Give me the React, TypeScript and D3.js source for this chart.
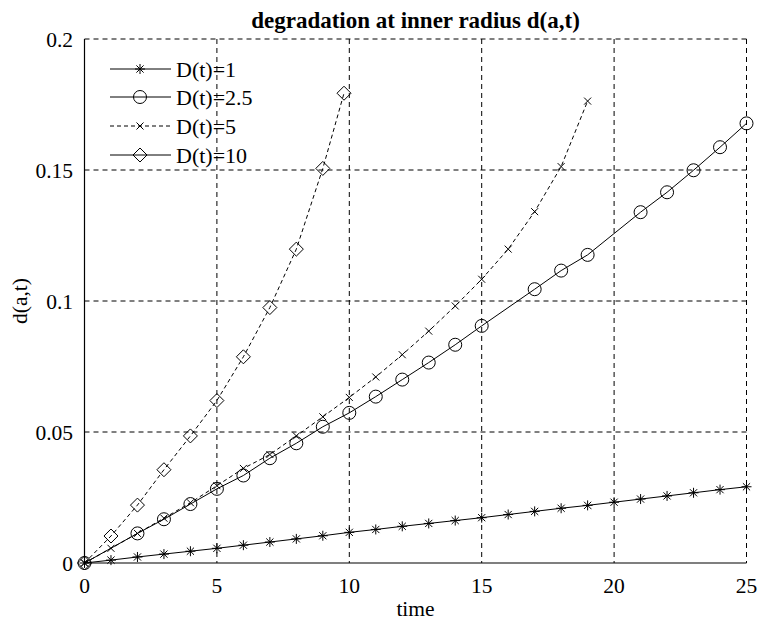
import React from "react";
import * as d3 from "d3";

const titleText = "degradation at inner radius d(a,t)";
const xLabel = "time";
const yLabel = "d(a,t)";
const xTicks = [0, 5, 10, 15, 20, 25];
const yTicks = [0, 0.05, 0.1, 0.15, 0.2];
const yTickLabels = ["0", "0.05", "0.1", "0.15", "0.2"];

// D(t)=1 (stars, solid)
const t1 = [0, 1, 2, 3, 4, 5, 6, 7, 8, 9, 10, 11, 12, 13, 14, 15, 16, 17, 18, 19, 20, 21, 22, 23, 24, 25];
const v1 = [0, 0.0011, 0.0023, 0.0034, 0.0045, 0.0056, 0.0068, 0.008, 0.0092, 0.0104, 0.0117, 0.0128, 0.014, 0.0151, 0.0162, 0.0173, 0.0185, 0.0197, 0.0209, 0.022, 0.0232, 0.0244, 0.0256, 0.0268, 0.028, 0.0291];

// D(t)=2.5 (circles, solid)
const t2 = [0, 2, 3, 4, 5, 6, 7, 8, 9, 10, 11, 12, 13, 14, 15, 17, 18, 19, 21, 22, 23, 24, 25];
const v2 = [0, 0.0113, 0.0167, 0.0225, 0.0283, 0.0334, 0.04, 0.0457, 0.052, 0.0573, 0.0635, 0.07, 0.0765, 0.0833, 0.0905, 0.1045, 0.1116, 0.1176, 0.1339, 0.1415, 0.1499, 0.1587, 0.1678];

// D(t)=5 (x marks, dashed)
const t3 = [0, 1, 2, 3, 4, 5, 6, 7, 8, 9, 10, 11, 12, 13, 14, 15, 16, 17, 18, 19];
const v3 = [0, 0.0056, 0.0113, 0.0171, 0.023, 0.0295, 0.0361, 0.0414, 0.0485, 0.0558, 0.0632, 0.071, 0.0795, 0.0885, 0.0981, 0.1083, 0.1198, 0.1341, 0.1513, 0.1763];

// D(t)=10 (diamonds, dashed)
const t4 = [0, 1, 2, 3, 4, 5, 6, 7, 8, 9, 9.8];
const v4 = [0, 0.0103, 0.0221, 0.0356, 0.0485, 0.062, 0.0787, 0.0975, 0.1198, 0.1506, 0.1793];

const legendLabels = ["D(t)=1", "D(t)=2.5", "D(t)=5", "D(t)=10"];

const W = 758;
const H = 621;
const left = 84.5;
const right = 746.5;
const top = 39;
const bottom = 563;
const FONT = "Liberation Serif";

type Marker = "star" | "circle" | "x" | "diamond";

function markerPath(m: Marker): string {
  if (m === "star") return "M0,-5V5M-5,0H5M-3.6,-3.6L3.6,3.6M-3.6,3.6L3.6,-3.6";
  if (m === "x") return "M-3.5,-3.5L3.5,3.5M-3.5,3.5L3.5,-3.5";
  if (m === "diamond") return "M0,-7L7,0L0,7L-7,0Z";
  return "";
}

function MarkerShape({ m, x, y }: { m: Marker; x: number; y: number }) {
  if (m === "circle") {
    return <circle cx={x} cy={y} r={6.5} fill="none" stroke="#000" strokeWidth={1} />;
  }
  return <path d={markerPath(m)} transform={`translate(${x},${y})`} fill="none" stroke="#000" strokeWidth={1} />;
}

export default function App() {
  const x = d3.scaleLinear().domain([0, 25]).range([left, right]);
  const y = d3.scaleLinear().domain([0, 0.2]).range([bottom, top]);

  const series = [
    { t: t1, v: v1, m: "star" as Marker, dash: undefined as string | undefined, legendDash: undefined as string | undefined },
    { t: t2, v: v2, m: "circle" as Marker, dash: undefined, legendDash: undefined },
    { t: t3, v: v3, m: "x" as Marker, dash: "4,3", legendDash: "4,3" },
    { t: t4, v: v4, m: "diamond" as Marker, dash: "4,3", legendDash: undefined },
  ];

  const line = d3
    .line<[number, number]>()
    .x((d) => x(d[0]))
    .y((d) => y(d[1]));

  const legendRows = [69, 97, 126, 155];

  return (
    <svg width={W} height={H} style={{ position: "absolute", left: 0, top: 0, background: "#fff" }} fontFamily={FONT}>
      <rect x={0} y={0} width={W} height={H} fill="#fff" />
      {xTicks.slice(1).map((t) => (
        <line key={"gx" + t} x1={x(t)} x2={x(t)} y1={top} y2={bottom} stroke="#000" strokeWidth={1} strokeDasharray="5,4" />
      ))}
      {yTicks.slice(1).map((v) => (
        <line key={"gy" + v} x1={left} x2={right} y1={y(v)} y2={y(v)} stroke="#000" strokeWidth={1} strokeDasharray="5,4" />
      ))}
      <line x1={left} x2={left} y1={top} y2={bottom} stroke="#000" strokeWidth={1.2} />
      <line x1={left} x2={right} y1={bottom} y2={bottom} stroke="#000" strokeWidth={1.2} />

      {xTicks.map((t) => (
        <text key={"xt" + t} x={x(t)} y={593} textAnchor="middle" fontSize={21.5} fill="#000">
          {t}
        </text>
      ))}
      {yTicks.map((v, i) => (
        <text key={"yt" + v} x={73} y={y(v) + 7.5} textAnchor="end" fontSize={21.5} fill="#000">
          {yTickLabels[i]}
        </text>
      ))}

      <text x={(left + right) / 2} y={28} textAnchor="middle" fontSize={23} fontWeight="bold" fill="#000">
        {titleText}
      </text>
      <text x={(left + right) / 2} y={616} textAnchor="middle" fontSize={21.5} fill="#000">
        {xLabel}
      </text>
      <text transform={`translate(27,${(top + bottom) / 2}) rotate(-90)`} textAnchor="middle" fontSize={21.5} fill="#000">
        {yLabel}
      </text>

      {series.map((s, i) => {
        const pts = s.t.map((t, j) => [t, s.v[j]] as [number, number]);
        return (
          <g key={"s" + i}>
            <path d={line(pts) || ""} fill="none" stroke="#000" strokeWidth={1} strokeDasharray={s.dash} />
            {pts.map((p, j) => (
              <MarkerShape key={j} m={s.m} x={x(p[0])} y={y(p[1])} />
            ))}
          </g>
        );
      })}

      {series.map((s, i) => (
        <g key={"lg" + i}>
          <line x1={110} x2={171} y1={legendRows[i]} y2={legendRows[i]} stroke="#000" strokeWidth={1} strokeDasharray={s.legendDash} />
          <MarkerShape m={s.m} x={140} y={legendRows[i]} />
          <text x={176} y={legendRows[i] + 7.5} fontSize={22} fill="#000">
            {legendLabels[i]}
          </text>
        </g>
      ))}
    </svg>
  );
}
